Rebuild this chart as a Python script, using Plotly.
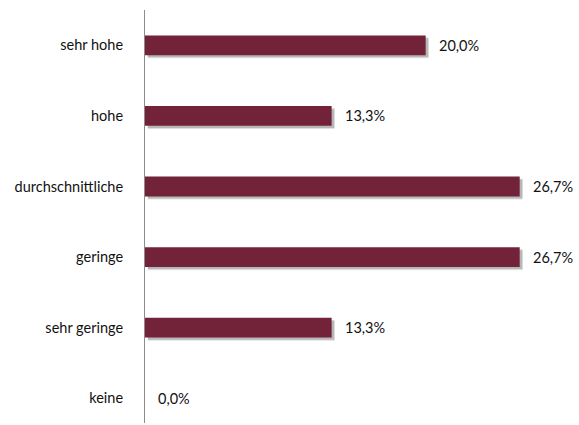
import plotly.graph_objects as go

categories = ["sehr hohe", "hohe", "durchschnittliche", "geringe", "sehr geringe", "keine"]
values = [20.0, 13.3, 26.7, 26.7, 13.3, 0.0]
value_labels = ["20,0%", "13,3%", "26,7%", "26,7%", "13,3%", "0,0%"]

bar_color = "#72233a"
bar_width = 0.28
font_family = "Lato, sans-serif"

fig = go.Figure()

# soft drop shadow underneath each bar
for shift, alpha in [(0.045, 0.12), (0.03, 0.18)]:
    fig.add_trace(go.Bar(
        y=categories, x=values, orientation="h",
        base=0.2, width=bar_width, offset=-bar_width / 2 + shift,
        marker=dict(color=f"rgba(0,0,0,{alpha})", line=dict(width=0)),
        hoverinfo="skip", showlegend=False,
    ))

fig.add_trace(go.Bar(
    y=categories, x=values, orientation="h",
    width=bar_width,
    marker=dict(color=bar_color, line=dict(width=0)),
    showlegend=False,
))

for cat, v, lab in zip(categories, values, value_labels):
    fig.add_annotation(
        x=v, y=cat, text=lab, showarrow=False,
        xanchor="left", yanchor="middle", xshift=11,
        font=dict(family=font_family, size=14.5, color="#111111"),
    )

fig.update_layout(
    width=579, height=425,
    margin=dict(l=145, r=13, t=10, b=2),
    paper_bgcolor="white", plot_bgcolor="white",
    barmode="overlay",
    font=dict(family=font_family, size=14.5, color="#111111"),
    xaxis=dict(range=[0, 30], visible=False, showgrid=False, zeroline=False),
    yaxis=dict(
        type="category", categoryorder="array", categoryarray=categories,
        range=[5.35, -0.5],
        showline=True, linecolor="#8c8c8c", linewidth=1,
        showgrid=False, zeroline=False, ticks="", ticklabelstandoff=18,
    ),
)

fig.write_html("out.html")
